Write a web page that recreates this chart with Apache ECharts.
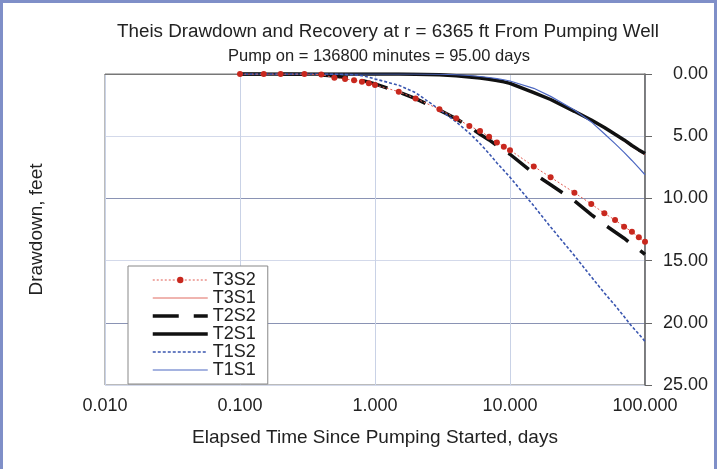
<!DOCTYPE html>
<html>
<head>
<meta charset="utf-8">
<script src="https://cdn.jsdelivr.net/npm/echarts@6.0.0/dist/echarts.min.js"></script>
<style>
  html, body { margin: 0; padding: 0; background: #fff; }
  #chart { width: 718px; height: 469px; }
</style>
</head>
<body>
<div id="chart"></div>
<script>
// elapsed time, days
var days = [0.1, 0.15, 0.2, 0.3, 0.4, 0.5, 0.6, 0.7, 0.8, 0.9, 1,
  1.5, 2, 3, 4, 5, 6, 7, 8, 9, 10,
  15, 20, 30, 40, 50, 60, 70, 80, 90, 100];

// drawdown, feet
var t3s2 = [0, 0, 0, 0, 0.05, 0.3, 0.4, 0.5, 0.62, 0.75, 0.88,
  1.42, 1.96, 2.84, 3.56, 4.18, 4.58, 5.04, 5.5, 5.84, 6.12,
  7.43, 8.3, 9.54, 10.45, 11.2, 11.74, 12.27, 12.68, 13.13, 13.48];
var t3s1 = [0, 0, 0, 0, 0, 0, 0, 0, 0, 0, 0,
  0.01, 0.03, 0.09, 0.17, 0.26, 0.36, 0.45, 0.55, 0.66, 0.77,
  1.5, 2.08, 3.0, 3.75, 4.35, 4.9, 5.4, 5.85, 6.2, 6.5];
var t2s2 = [0, 0, 0, 0.02, 0.08, 0.17, 0.28, 0.4, 0.52, 0.65, 0.8,
  1.45, 1.98, 2.9, 3.6, 4.25, 4.85, 5.3, 5.75, 6.1, 6.45,
  8.0, 8.9, 10.2, 11.3, 12.1, 12.7, 13.2, 13.7, 14.1, 14.5];
var t2s1 = [0, 0, 0, 0, 0, 0, 0, 0, 0, 0, 0,
  0.005, 0.02, 0.07, 0.15, 0.24, 0.33, 0.42, 0.52, 0.63, 0.75,
  1.5, 2.05, 3.0, 3.7, 4.3, 4.85, 5.3, 5.75, 6.1, 6.4];
var t1s2 = [0, 0, 0, 0, 0, 0.01, 0.03, 0.07, 0.14, 0.25, 0.4,
  0.9, 1.5, 2.85, 3.85, 4.75, 5.6, 6.4, 7.15, 7.75, 8.3,
  10.6, 12.3, 14.6, 16.3, 17.6, 18.6, 19.5, 20.3, 20.9, 21.5];
var t1s1 = [0, 0, 0, 0, 0, 0, 0, 0, 0, 0, 0,
  0, 0, 0.02, 0.06, 0.12, 0.2, 0.28, 0.37, 0.46, 0.56,
  1.15, 1.8, 2.9, 3.85, 4.8, 5.6, 6.3, 6.95, 7.55, 8.1];

var seriesNames = ['T3S2', 'T3S1', 'T2S2', 'T2S1', 'T1S2', 'T1S1'];
var legendWidths = [1, 1, 3.5, 3.5, 1.6, 1.2];
var drawdownTicks = [0, 5, 10, 15, 20, 25];

function pairs(vals) {
  return days.map(function (d, i) { return [d, vals[i]]; });
}

var font = 'Liberation Sans, Arial, sans-serif';
var myChart = echarts.init(document.getElementById('chart'));

// only the first series has a marker in the legend
var legendData = seriesNames.map(function (n, i) {
  var item = { name: n, lineStyle: { width: legendWidths[i] } };
  if (i > 0) item.itemStyle = { opacity: 0 };
  return item;
});

var option = {
  backgroundColor: '#fff',
  animation: false,
  textStyle: { fontFamily: font, color: '#222' },
  title: [
    { text: 'Theis Drawdown and Recovery at r = 6365 ft From Pumping Well',
      left: 383, top: 17, textAlign: 'center',
      textStyle: { fontSize: 18.8, fontWeight: 'normal', color: '#222', fontFamily: font } },
    { text: 'Pump on = 136800 minutes = 95.00 days',
      left: 374, top: 43, textAlign: 'center',
      textStyle: { fontSize: 16.5, fontWeight: 'normal', color: '#222', fontFamily: font } }
  ],
  graphic: [
    { type: 'rect', shape: { x: 1.5, y: 1.5, width: 714, height: 480 },
      style: { fill: 'none', stroke: '#7f8fc8', lineWidth: 3 }, z: 100 }
  ],
  grid: { left: 105, right: 73, top: 74, bottom: 84, show: true,
    borderColor: '#777', borderWidth: 1, backgroundColor: '#fff' },
  legend: {
    data: legendData,
    orient: 'vertical',
    left: 128, top: 266,
    itemWidth: 55, itemHeight: 8, itemGap: 0,
    padding: [5, 12, 5, 23],
    backgroundColor: '#fff',
    borderColor: '#888', borderWidth: 1,
    textStyle: { fontSize: 18, color: '#222', fontFamily: font }
  },
  xAxis: {
    type: 'log', logBase: 10, min: 0.01, max: 100,
    name: 'Elapsed Time Since Pumping Started, days',
    nameLocation: 'middle', nameGap: 43,
    nameTextStyle: { fontSize: 19, color: '#222' },
    axisLine: { show: true, lineStyle: { color: '#777' } },
    axisTick: { show: false },
    axisLabel: { fontSize: 18, color: '#222', margin: 12,
      formatter: function (v) { return v.toFixed(3); } },
    splitLine: { show: true, lineStyle: { color: '#c9d2e6', width: 1 } },
    minorTick: { show: false }
  },
  yAxis: [
    { type: 'value', position: 'right', inverse: true,
      min: drawdownTicks[0], max: drawdownTicks[drawdownTicks.length - 1], interval: 5,
      axisLine: { show: true, lineStyle: { color: '#666', width: 1.5 } },
      axisTick: { show: true, inside: false, length: 7, lineStyle: { color: '#666' } },
      axisLabel: { fontSize: 18, color: '#222', align: 'right', margin: 63,
        formatter: function (v) { return v.toFixed(2); } },
      splitLine: { show: true, lineStyle: { color: ['#8a93b4', '#d3d9ea'], width: 1 } }
    },
    { type: 'value', position: 'left', inverse: true, min: 0, max: 25,
      name: 'Drawdown, feet', nameLocation: 'middle', nameGap: 59,
      nameTextStyle: { fontSize: 19, color: '#222' },
      axisLine: { show: false }, axisTick: { show: false },
      axisLabel: { show: false }, splitLine: { show: false }
    }
  ],
  series: [
    { name: 'T3S2', type: 'line', data: pairs(t3s2), z: 4,
      symbol: 'circle', symbolSize: 6,
      itemStyle: { color: '#c8281e' },
      lineStyle: { color: '#e05a50', width: 1, type: [2, 2] } },
    { name: 'T3S1', type: 'line', data: pairs(t3s1), symbol: 'none',
      itemStyle: { color: '#e06a60' },
      lineStyle: { color: '#e06a60', width: 1 } },
    { name: 'T2S2', type: 'line', data: pairs(t2s2), symbol: 'none',
      itemStyle: { color: '#111' },
      lineStyle: { color: '#111', width: 3.5, type: [26, 15] } },
    { name: 'T2S1', type: 'line', data: pairs(t2s1), symbol: 'none',
      itemStyle: { color: '#111' },
      lineStyle: { color: '#111', width: 3.5 } },
    { name: 'T1S2', type: 'line', data: pairs(t1s2), symbol: 'none',
      itemStyle: { color: '#3a56b0' },
      lineStyle: { color: '#3a56b0', width: 1.6, type: [3, 2] } },
    { name: 'T1S1', type: 'line', data: pairs(t1s1), symbol: 'none',
      itemStyle: { color: '#4d68c2' },
      lineStyle: { color: '#4d68c2', width: 1.2 } }
  ]
};

myChart.setOption(option);
window.onresize = function () { myChart.resize(); };
</script>
</body>
</html>
